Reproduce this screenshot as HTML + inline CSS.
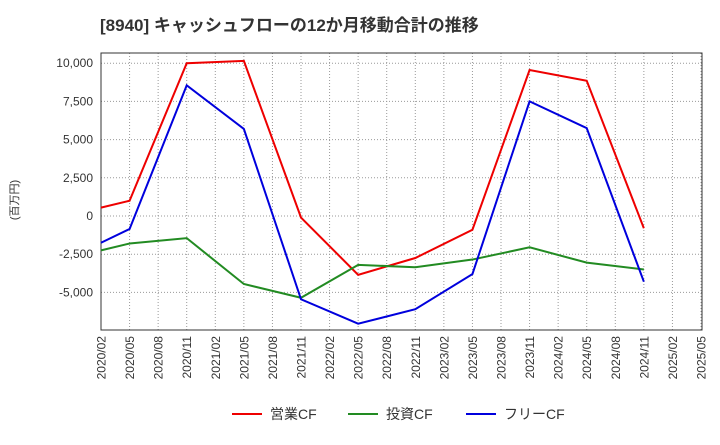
<!DOCTYPE html>
<html><head><meta charset="utf-8"><style>
body{margin:0;background:#fff;font-family:"Liberation Sans","Noto Sans CJK JP",sans-serif;}
</style></head><body>
<svg id="chart" width="720" height="440" xmlns="http://www.w3.org/2000/svg">
<text x="100" y="31" font-size="17" font-weight="bold" fill="#333" font-family="Liberation Sans, Noto Sans CJK JP, sans-serif">[8940]  キャッシュフローの12か月移動合計の推移</text>
<text transform="translate(18,200) rotate(-90)" text-anchor="middle" font-size="11" fill="#333" font-family="Liberation Sans, Noto Sans CJK JP, sans-serif">(百万円)</text>
<g id="grid"></g><g id="axes"></g><g id="series"></g>
<g font-size="14" fill="#333" font-family="Liberation Sans, Noto Sans CJK JP, sans-serif">
<line x1="232" y1="414" x2="262" y2="414" stroke="#e00" stroke-width="2"/><text x="270" y="419">営業CF</text>
<line x1="348" y1="414" x2="378" y2="414" stroke="#228B22" stroke-width="2"/><text x="386" y="419">投資CF</text>
<line x1="466" y1="414" x2="496" y2="414" stroke="#00d" stroke-width="2"/><text x="504" y="419">フリーCF</text>
</g>
</svg>
<script>
const xLabels=["2020/02","2020/05","2020/08","2020/11","2021/02","2021/05","2021/08","2021/11","2022/02","2022/05","2022/08","2022/11","2023/02","2023/05","2023/08","2023/11","2024/02","2024/05","2024/08","2024/11","2025/02","2025/05"];
const yTicks=[-5000,-2500,0,2500,5000,7500,10000];
const pointIdx=[0,1,3,5,7,9,11,13,15,17,19];
const operatingCF=[550,1000,10000,10150,-100,-3850,-2750,-900,9550,8850,-800];
const investingCF=[-2250,-1800,-1450,-4450,-5350,-3200,-3350,-2850,-2050,-3050,-3500];
const freeCF=[-1750,-850,8550,5700,-5450,-7050,-6100,-3800,7500,5750,-4300];
const NS="http://www.w3.org/2000/svg";
const L=101,R=702,T=53,B=330;
const x=i=>L+i*(R-L-1)/(xLabels.length-1);
const y=v=>216-v*38.2/2500;
function mk(tag,attrs,parent){const e=document.createElementNS(NS,tag);for(const k in attrs)e.setAttribute(k,attrs[k]);parent.appendChild(e);return e;}
const grid=document.getElementById('grid'),axes=document.getElementById('axes'),ser=document.getElementById('series');
mk('rect',{x:L,y:T,width:R-L,height:B-T,fill:'none',stroke:'#333','stroke-width':1},axes);
yTicks.forEach(v=>{
const g=mk('line',{x1:L,x2:R,y1:y(v),y2:y(v),stroke:'#999','stroke-dasharray':'1,2'},grid);


const t=mk('text',{x:L-8,y:y(v)+4,'text-anchor':'end','font-size':12,fill:'#333'},axes);
t.textContent=v.toLocaleString('en-US');


});
xLabels.forEach((s,i)=>{
const g=mk('line',{x1:x(i),x2:x(i),y1:T,y2:B,stroke:'#999','stroke-dasharray':'1,2'},grid);


const t=mk('text',{transform:`translate(${x(i)+4.5},${B+6}) rotate(-90)`,'text-anchor':'end','font-size':12,fill:'#333'},axes);
t.textContent=s;


});
[[operatingCF,'#e00','operating-cf-line'],[investingCF,'#228B22','investing-cf-line'],[freeCF,'#00d','free-cf-line']].forEach(([d,c,n])=>{
const p=mk('polyline',{points:d.map((v,k)=>x(pointIdx[k])+','+y(v)).join(' '),fill:'none',stroke:c,'stroke-width':2},ser);


});
</script>
</body></html>
